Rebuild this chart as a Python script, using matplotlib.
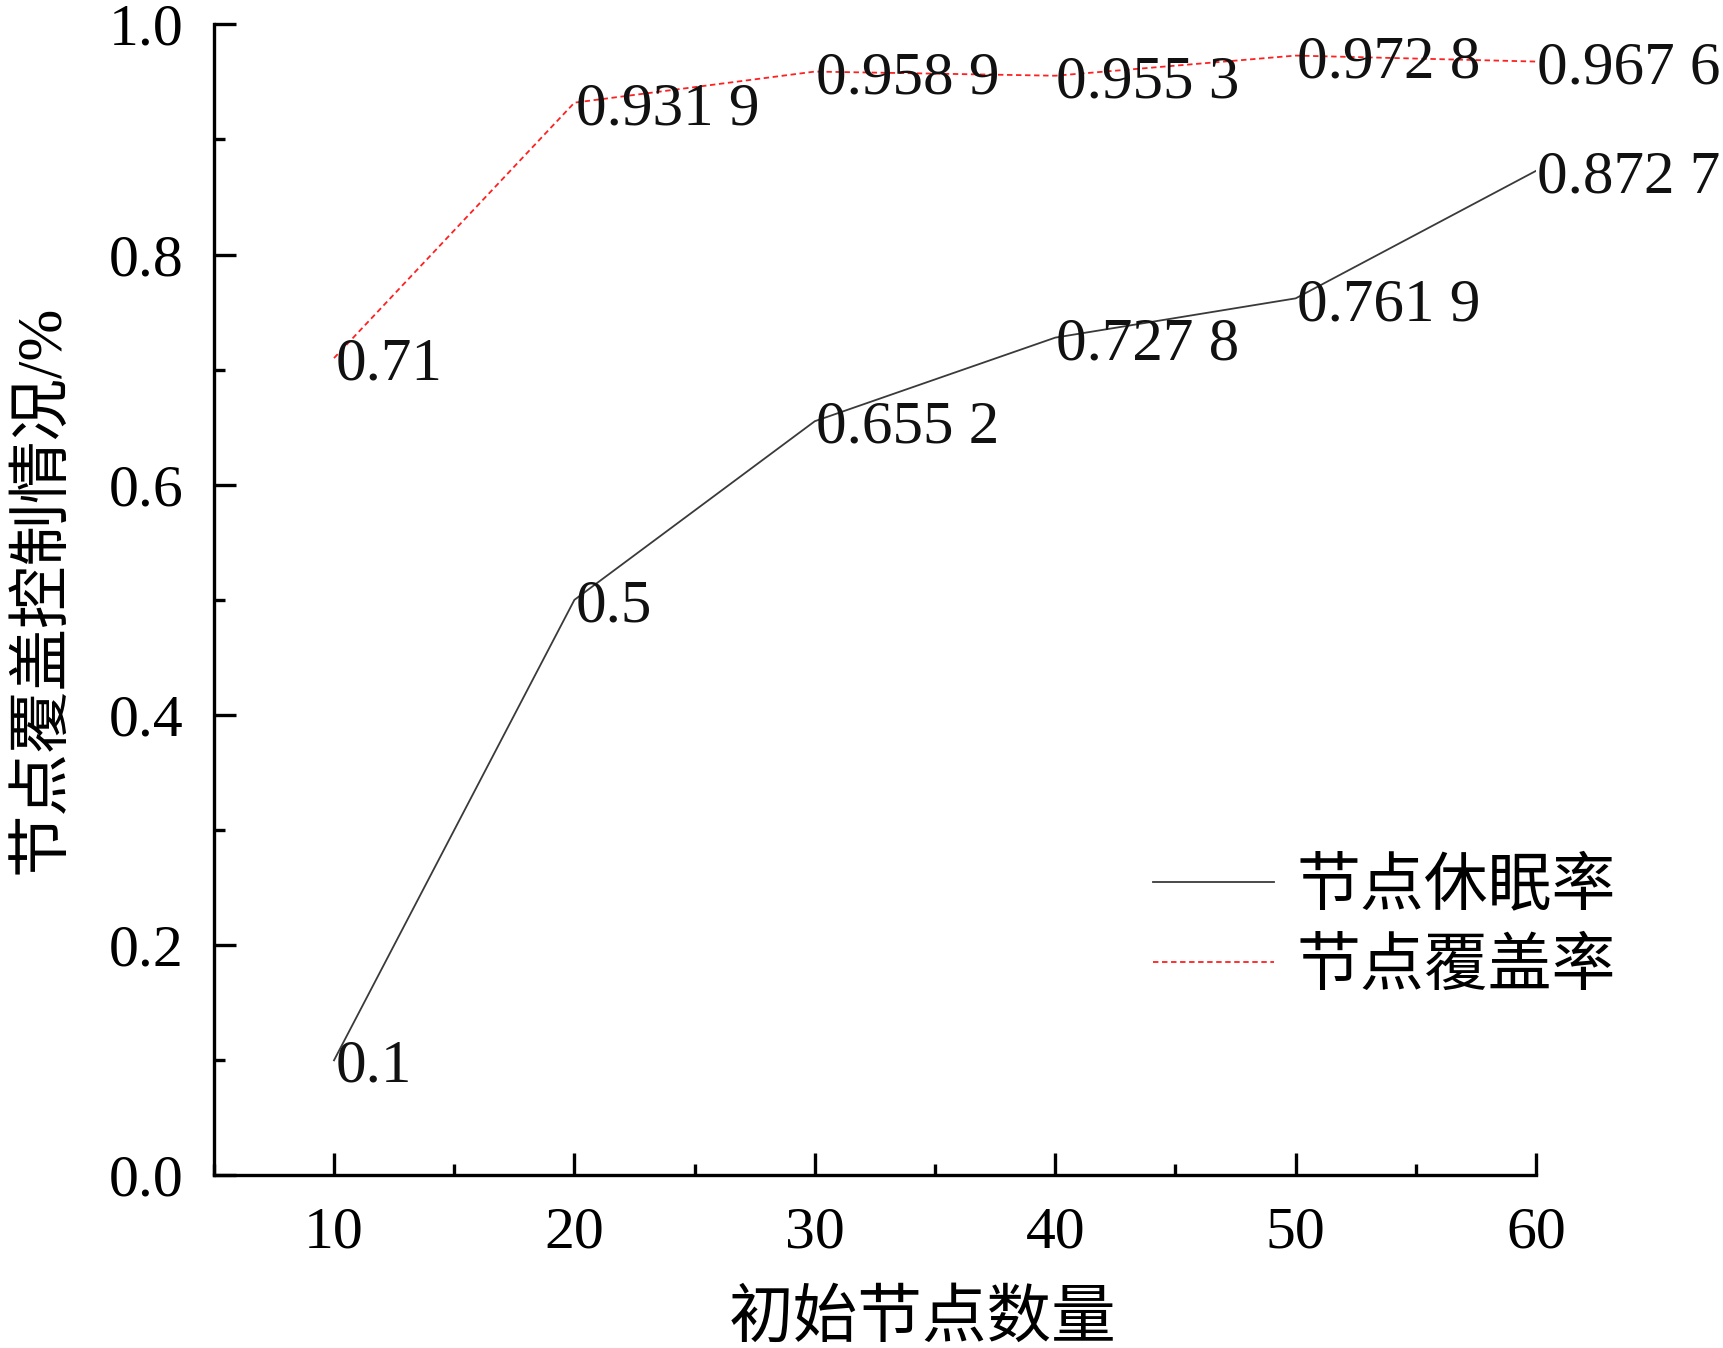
import matplotlib
matplotlib.use('Agg')
import matplotlib.pyplot as plt
from matplotlib.ticker import MultipleLocator

plt.rcParams['font.family'] = ['Liberation Serif', 'Noto Sans CJK SC']

# 数据
nodes = [10, 20, 30, 40, 50, 60]
sleep_rate = [0.1, 0.5, 0.6552, 0.7278, 0.7619, 0.8727]
cover_rate = [0.71, 0.9319, 0.9589, 0.9553, 0.9728, 0.9676]
sleep_labels = ['0.1', '0.5', '0.655 2', '0.727 8', '0.761 9', '0.872 7']
cover_labels = ['0.71', '0.931 9', '0.958 9', '0.955 3', '0.972 8', '0.967 6']

fig = plt.figure(figsize=(17.24, 13.48), dpi=100)
ax = fig.add_axes([0.124, 0.128, 0.767, 0.854])

ax.plot(nodes, sleep_rate, color='#3a3a3a', lw=1.3, label='节点休眠率')
ax.plot(nodes, cover_rate, color='#ff2020', lw=1.3, ls=(0, (3, 2)), label='节点覆盖率')

fs = 44
for x, y, s in zip(nodes, sleep_rate, sleep_labels):
    ax.text(x + 0.05, y - 0.006, s, fontsize=fs, ha='left', va='center', color='#111111')
for x, y, s in zip(nodes, cover_rate, cover_labels):
    ax.text(x + 0.05, y - 0.006, s, fontsize=fs, ha='left', va='center', color='#111111')

ax.set_xlim(5, 60)
ax.set_ylim(0, 1.0)
ax.xaxis.set_major_locator(MultipleLocator(10))
ax.xaxis.set_minor_locator(MultipleLocator(5))
ax.yaxis.set_major_locator(MultipleLocator(0.2))
ax.yaxis.set_minor_locator(MultipleLocator(0.1))
ax.yaxis.set_major_formatter(matplotlib.ticker.FormatStrFormatter('%.1f'))

for side in ['top', 'right']:
    ax.spines[side].set_visible(False)
for side in ['left', 'bottom']:
    ax.spines[side].set_linewidth(2.4)

ax.tick_params(which='major', direction='in', length=16, width=2.4, labelsize=43, pad=22)
ax.tick_params(which='minor', direction='in', length=8, width=2.4)

ax.set_xlabel('初始节点数量', fontsize=46.5)
ax.xaxis.set_label_coords(0.536, -0.126, transform=ax.transAxes)
ax.xaxis.label.set_va('center')
ax.set_ylabel('节点覆盖控制情况/%', fontsize=45)
ax.yaxis.set_label_coords(-0.129, 0.509, transform=ax.transAxes)
ax.yaxis.label.set_va('center')

leg = ax.legend(loc='upper left', bbox_to_anchor=(0.71, 0.275), frameon=False,
                fontsize=46, handlelength=1.9, handletextpad=0.35, labelspacing=0.32,
                borderpad=0, borderaxespad=0)

fig.savefig('out.png', dpi=100)
